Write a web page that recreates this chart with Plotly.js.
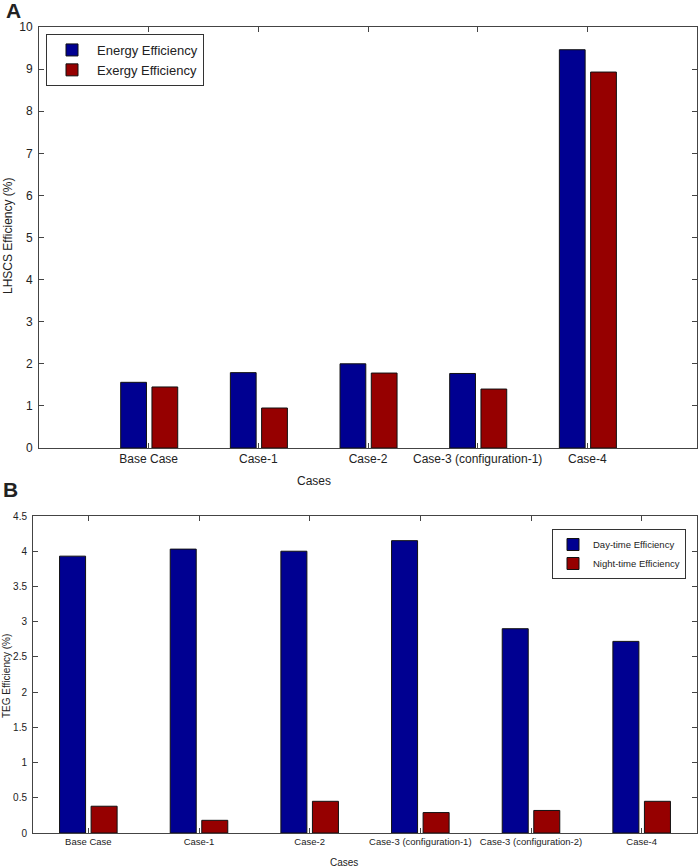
<!DOCTYPE html>
<html>
<head>
<meta charset="utf-8">
<script src="https://cdn.plot.ly/plotly-3.0.1.min.js"></script>
<style>
  html, body { margin: 0; padding: 0; background: #fff; }
  #plotly { width: 699px; height: 868px; }
</style>
</head>
<body>
<div id="plotly"></div>
<script>
// panel A: LHSCS efficiency
var lhscsCases = ['Base Case', 'Case-1', 'Case-2', 'Case-3 (configuration-1)', 'Case-4'];
var energyEff = [1.56, 1.79, 2.00, 1.77, 9.46];
var exergyEff = [1.45, 0.95, 1.78, 1.40, 8.93];

// panel B: TEG efficiency
var tegCases = ['Base Case', 'Case-1', 'Case-2', 'Case-3 (configuration-1)', 'Case-3 (configuration-2)', 'Case-4'];
var dayEff = [3.93, 4.03, 4.00, 4.15, 2.90, 2.72];
var nightEff = [0.38, 0.18, 0.45, 0.29, 0.32, 0.45];

var BLUE = 'rgb(0, 0, 145)', RED = 'rgb(150, 0, 0)';
var FONT = 'Liberation Sans, Arial, sans-serif';

var positions = function(arr) {
  return arr.map(function(d, i) { return i + 1; });
};

var barTrace = function(xs, ys, name, color, offset, xa, ya, legend) {
  return {
    type: 'bar',
    x: xs, y: ys, name: name,
    width: 0.235, offset: offset,
    marker: { color: color, line: { color: '#111', width: 1 } },
    xaxis: xa, yaxis: ya, legend: legend
  };
};

var data = [
  barTrace(positions(lhscsCases), energyEff, 'Energy Efficiency', BLUE, -0.255, 'x', 'y', 'legend'),
  barTrace(positions(lhscsCases), exergyEff, 'Exergy Efficiency', RED, 0.03, 'x', 'y', 'legend'),
  barTrace(positions(tegCases), dayEff, 'Day-time Efficiency', BLUE, -0.26, 'x2', 'y2', 'legend2'),
  barTrace(positions(tegCases), nightEff, 'Night-time Efficiency', RED, 0.025, 'x2', 'y2', 'legend2')
];

var axisBase = {
  showgrid: false, zeroline: false, showline: true,
  linecolor: '#444', linewidth: 1, mirror: 'ticks',
  ticks: 'inside', ticklen: 5, tickcolor: '#444', tickwidth: 1
};

var W = 699, H = 868;
var px = function(a, b) { return [a / W, b / W]; };
var py = function(top, bottom) { return [1 - bottom / H, 1 - top / H]; };

var label = function(text, x, y, size, angle) {
  return {
    text: text, x: x / W, y: 1 - y / H, xref: 'paper', yref: 'paper',
    xanchor: 'center', yanchor: 'middle', showarrow: false,
    textangle: angle || 0, font: { size: size }
  };
};

var layout = {
  width: W, height: H,
  margin: { l: 0, r: 0, t: 0, b: 0 },
  paper_bgcolor: '#fff',
  plot_bgcolor: '#fff',
  font: { family: FONT, color: '#222', size: 12 },
  barmode: 'overlay',
  showlegend: true,
  xaxis: Object.assign({}, axisBase, {
    domain: px(39, 697), anchor: 'y', range: [0, 6],
    tickvals: positions(lhscsCases), ticktext: lhscsCases,
    tickfont: { size: 12 }
  }),
  yaxis: Object.assign({}, axisBase, {
    domain: py(27, 448), anchor: 'x', range: [0, 10], dtick: 1,
    tickfont: { size: 12 }, ticklabelstandoff: 3
  }),
  xaxis2: Object.assign({}, axisBase, {
    domain: px(33, 697), anchor: 'y2', range: [0.5, 6.5],
    tickvals: positions(tegCases), ticktext: tegCases,
    tickfont: { size: 9.5 }
  }),
  yaxis2: Object.assign({}, axisBase, {
    domain: py(516, 833), anchor: 'x2', range: [0, 4.5], dtick: 0.5,
    tickfont: { size: 10 }, ticklabelstandoff: 3
  }),
  legend: {
    x: 46 / W, y: 1 - 34 / H, xanchor: 'left', yanchor: 'top',
    bgcolor: '#fff', bordercolor: '#333', borderwidth: 1,
    font: { size: 13 }, itemwidth: 40, tracegroupgap: 0
  },
  legend2: {
    x: 552 / W, y: 1 - 529 / H, xanchor: 'left', yanchor: 'top',
    bgcolor: '#fff', bordercolor: '#333', borderwidth: 1,
    font: { size: 9.5 }, itemwidth: 30, tracegroupgap: 0
  },
  annotations: [
    label('<b>A</b>', 13, 11, 21),
    label('<b>B</b>', 10, 489, 21),
    label('LHSCS Efficiency (%)', 8, 236, 12, -90),
    label('Cases', 314, 481, 12),
    label('TEG Efficiency (%)', 6, 676, 10, -90),
    label('Cases', 344, 862, 10)
  ]
};

Plotly.newPlot('plotly', data, layout, { staticPlot: true });
</script>
</body>
</html>
